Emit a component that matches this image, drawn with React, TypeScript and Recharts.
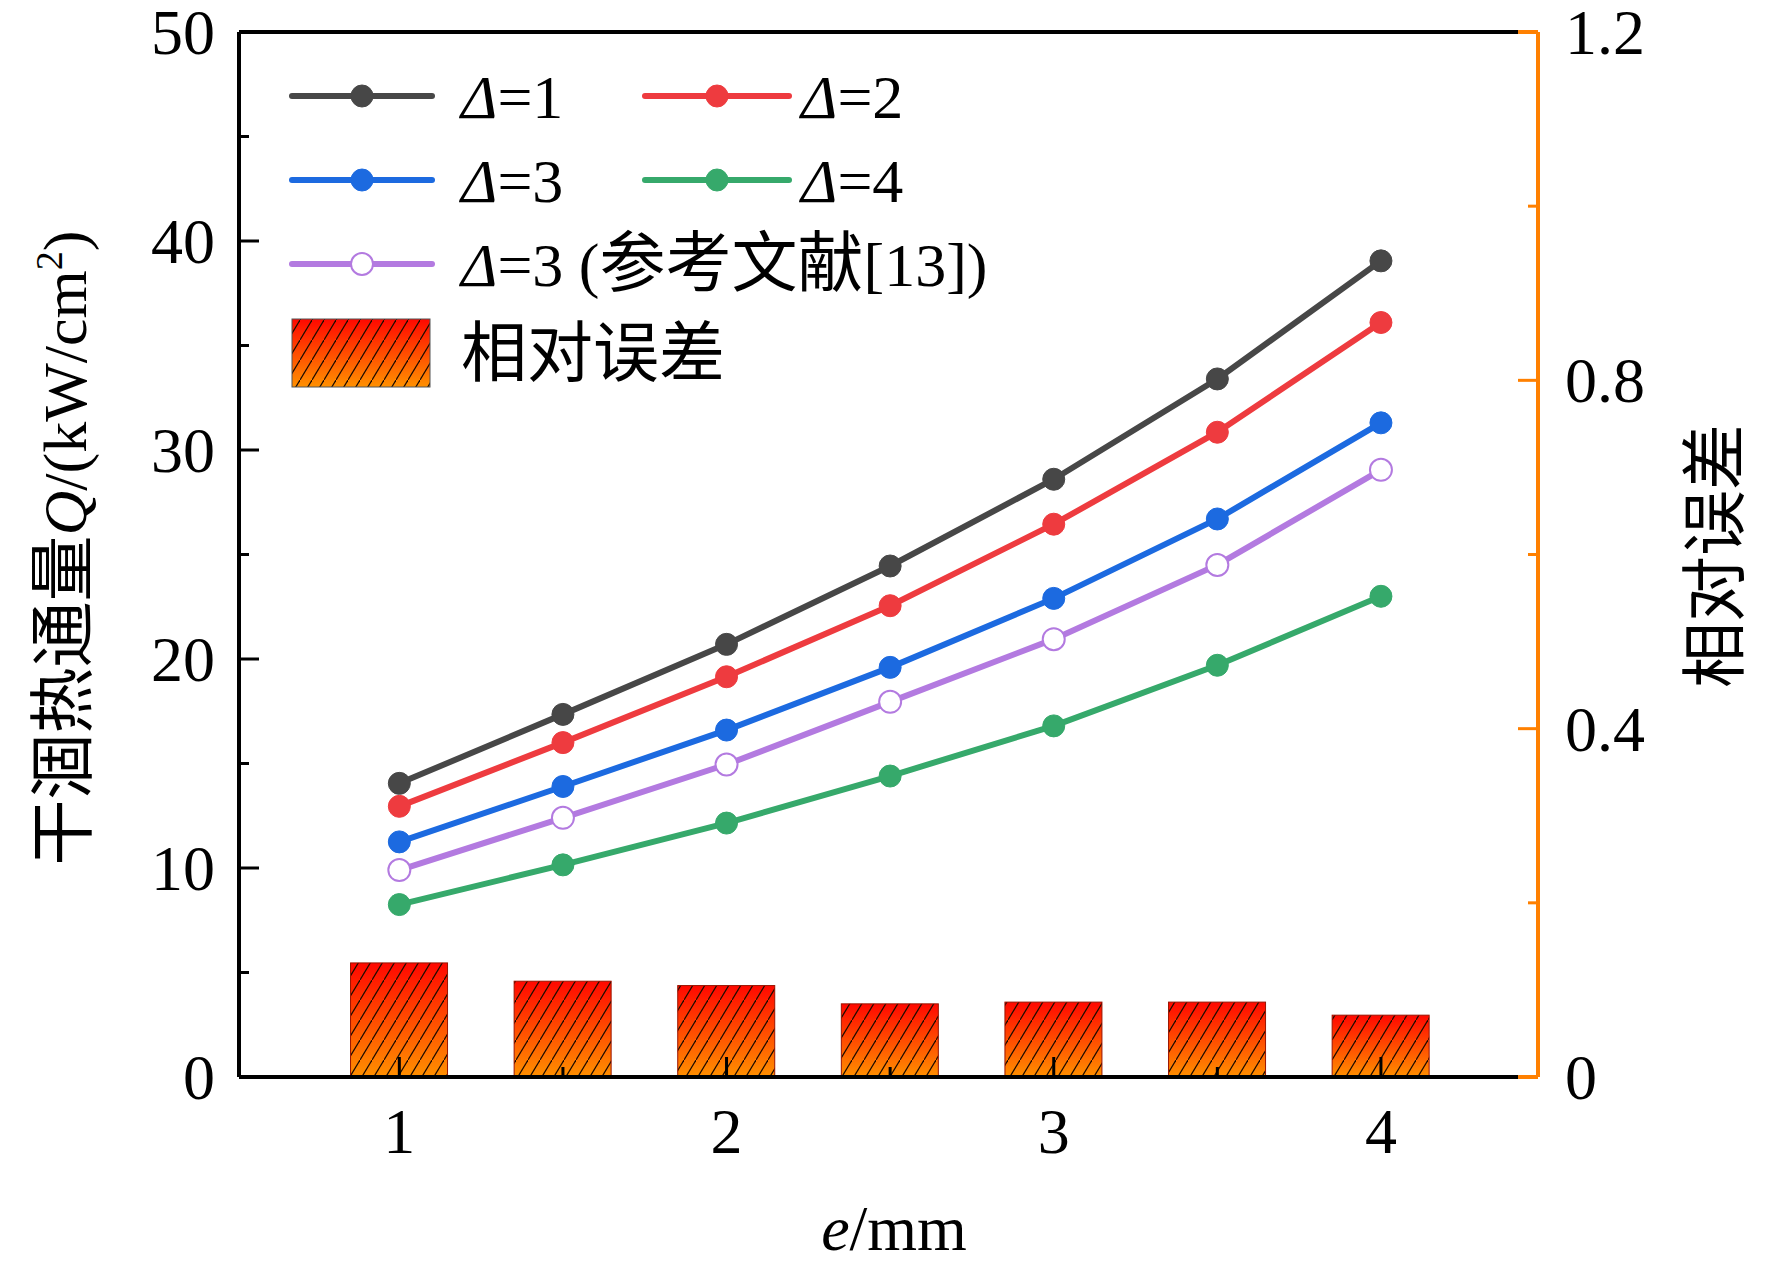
import { ComposedChart, Bar, Line, XAxis, YAxis, ReferenceLine } from 'recharts';

// e/mm 横坐标
const E_MM = [1, 1.5, 2, 2.5, 3, 3.5, 4];
// 干涸热通量 Q (kW/cm²)
const Q_D1 = [14.05, 17.35, 20.7, 24.45, 28.6, 33.4, 39.05];
const Q_D2 = [12.95, 16.0, 19.15, 22.55, 26.45, 30.85, 36.1];
const Q_D3 = [11.25, 13.9, 16.6, 19.6, 22.9, 26.7, 31.3];
const Q_D4 = [8.25, 10.15, 12.15, 14.4, 16.8, 19.7, 23.0];
const Q_D3_REF = [9.9, 12.4, 14.95, 17.95, 20.95, 24.5, 29.05];
// 相对误差 (右轴)
const REL_ERR = [0.131, 0.11, 0.105, 0.084, 0.086, 0.086, 0.071];

const X_TICKS = [1, 1.5, 2, 2.5, 3, 3.5, 4];
const LEFT_TICKS = [0, 5, 10, 15, 20, 25, 30, 35, 40, 45, 50];
const RIGHT_TICKS = [0, 0.2, 0.4, 0.6, 0.8, 1.0, 1.2];
const RIGHT_MAJOR = [0, 0.4, 0.8, 1.2];

const SERIES = [
  { key: 'd1', name: '=1', cjk: '', tail: '', color: '#474747', hollow: false },
  { key: 'd2', name: '=2', cjk: '', tail: '', color: '#ee3b3f', hollow: false },
  { key: 'd3', name: '=3', cjk: '', tail: '', color: '#1c6ae0', hollow: false },
  { key: 'd4', name: '=4', cjk: '', tail: '', color: '#36a96b', hollow: false },
  { key: 'd3ref', name: '=3 (', cjk: '参考文献', tail: '[13])', color: '#b37ae0', hollow: true },
];

const ORANGE = '#ff8000';
const SERIF = "'Liberation Serif', 'Times New Roman', 'Noto Sans CJK SC', serif";
const CJK = "'Noto Sans CJK SC', sans-serif";
const FS = 64;
const FS_CJK = 66;

const X_MIN = 0.51;
const X_MAX = 4.48;
const X_FRAME_END = 4.42;

const rows = E_MM.map((e, i) => ({
  e,
  d1: Q_D1[i],
  d2: Q_D2[i],
  d3: Q_D3[i],
  d4: Q_D4[i],
  d3ref: Q_D3_REF[i],
  err: REL_ERR[i],
}));

function BottomTick({ x, y, payload }: any) {
  const v = payload.value;
  const major = Number.isInteger(v);
  return (
    <g>
      <line x1={x} x2={x} y1={y} y2={y - (major ? 20 : 10)} stroke="#000" strokeWidth={3} />
      {major && (
        <text x={x} y={y + 76} textAnchor="middle" fontSize={FS} fontFamily={SERIF} fill="#000">
          {v}
        </text>
      )}
    </g>
  );
}

function LeftTick({ x, y, payload }: any) {
  const v = payload.value;
  const major = v % 10 === 0;
  return (
    <g>
      <line x1={x} x2={x + (major ? 20 : 10)} y1={y} y2={y} stroke="#000" strokeWidth={3} />
      {major && (
        <text x={x - 24} y={y + 22} textAnchor="end" fontSize={FS} fontFamily={SERIF} fill="#000">
          {v}
        </text>
      )}
    </g>
  );
}

function RightTick({ x, y, payload }: any) {
  const v = payload.value;
  const major = RIGHT_MAJOR.some((m) => Math.abs(m - v) < 1e-6);
  return (
    <g>
      <line x1={x} x2={x - (major ? 20 : 10)} y1={y} y2={y} stroke={ORANGE} strokeWidth={3} />
      {major && (
        <text x={x + 27} y={y + 22} textAnchor="start" fontSize={FS} fontFamily={SERIF} fill="#000">
          {v === 0 ? '0' : v.toFixed(1)}
        </text>
      )}
    </g>
  );
}

function HatchBar(props: any) {
  const { x, y, width, height } = props;
  if (!height || height <= 0) return null;
  return (
    <g>
      <rect x={x} y={y} width={width} height={height} fill="url(#errGrad)" />
      <rect x={x} y={y} width={width} height={height} fill="url(#errHatch)" stroke="#9a1400" strokeWidth={1} />
    </g>
  );
}

function Defs() {
  return (
    <svg width={0} height={0} style={{ position: 'absolute' }}>
      <defs>
        <linearGradient id="errGrad" x1="0" y1="0" x2="0" y2="1">
          <stop offset="0%" stopColor="#ff0800" />
          <stop offset="100%" stopColor="#ff9000" />
        </linearGradient>
        <pattern id="errHatch" patternUnits="userSpaceOnUse" width={12} height={20}>
          <line x1={-1.2} y1={22} x2={13.2} y2={-2} stroke="#1a0a00" strokeWidth={1.2} />
        </pattern>
      </defs>
    </svg>
  );
}

function Overlay() {
  const col1 = { x0: 292, x1: 432, text: 461 };
  const col2 = { x0: 645, x1: 789, text: 801 };
  const slots = [
    { s: SERIES[0], c: col1, y: 96 },
    { s: SERIES[1], c: col2, y: 96 },
    { s: SERIES[2], c: col1, y: 180 },
    { s: SERIES[3], c: col2, y: 180 },
    { s: SERIES[4], c: col1, y: 264 },
  ];
  return (
    <svg
      width={1772}
      height={1268}
      style={{ position: 'absolute', left: 0, top: 0, pointerEvents: 'none' }}
      fontFamily={SERIF}
    >
      {slots.map(({ s, c, y }) => (
        <g key={s.key}>
          <line x1={c.x0} x2={c.x1} y1={y} y2={y} stroke={s.color} strokeWidth={6} strokeLinecap="round" />
          <circle
            cx={(c.x0 + c.x1) / 2}
            cy={y}
            r={11}
            fill={s.hollow ? '#fff' : s.color}
            stroke={s.color}
            strokeWidth={s.hollow ? 2 : 1}
          />
          <text x={c.text} y={y + 22} fontSize={62} fill="#000">
            <tspan fontStyle="italic">Δ</tspan>
            {s.name}
            {s.cjk && (
              <tspan fontFamily={CJK} fontSize={FS_CJK}>
                {s.cjk}
              </tspan>
            )}
            {s.tail}
          </text>
        </g>
      ))}
      <rect x={292} y={319} width={138} height={68} fill="url(#errGrad)" />
      <rect x={292} y={319} width={138} height={68} fill="url(#errHatch)" stroke="#555" strokeWidth={1} />
      <text x={461} y={376} fontSize={FS_CJK} fontFamily={CJK} fill="#000">
        相对误差
      </text>

      {/* axis titles */}
      <text transform="translate(86,548) rotate(-90)" textAnchor="middle" fontSize={62} fill="#000">
        <tspan fontFamily={CJK} fontSize={FS_CJK}>
          干涸热通量
        </tspan>
        <tspan fontStyle="italic">Q</tspan>/(kW/cm<tspan fontSize={38} dy={-24}>2</tspan>
        <tspan dy={24}>)</tspan>
      </text>
      <text
        transform="translate(1738,556) rotate(-90)"
        textAnchor="middle"
        fontSize={FS_CJK}
        fontFamily={CJK}
        fill="#000"
      >
        相对误差
      </text>
      <text x={894} y={1250} textAnchor="middle" fontSize={FS} fill="#000">
        <tspan fontStyle="italic">e</tspan>/mm
      </text>
    </svg>
  );
}

export default function App() {
  return (
    <div style={{ position: 'absolute', left: 0, top: 0, width: 1772, height: 1268, background: '#fff' }}>
      <Defs />
      <ComposedChart width={1772} height={1268} data={rows} margin={{ top: 32, right: 134, left: 139, bottom: 91 }}>
        <Bar yAxisId="right" dataKey="err" barSize={97} shape={<HatchBar />} isAnimationActive={false} />
        {SERIES.map((s) => (
          <Line
            key={s.key}
            yAxisId="left"
            type="linear"
            dataKey={s.key}
            stroke={s.color}
            strokeWidth={6}
            dot={{ r: 11, fill: s.hollow ? '#fff' : s.color, stroke: s.color, strokeWidth: s.hollow ? 2 : 1 }}
            activeDot={false}
            isAnimationActive={false}
          />
        ))}
        <ReferenceLine yAxisId="left" segment={[{ x: X_MIN, y: 50 }, { x: X_FRAME_END, y: 50 }]} stroke="#000" strokeWidth={4} />
        <ReferenceLine yAxisId="left" segment={[{ x: X_FRAME_END, y: 50 }, { x: X_MAX, y: 50 }]} stroke={ORANGE} strokeWidth={4} />
        <ReferenceLine yAxisId="left" segment={[{ x: X_MIN, y: 0 }, { x: X_FRAME_END, y: 0 }]} stroke="#000" strokeWidth={4} />
        <ReferenceLine yAxisId="left" segment={[{ x: X_FRAME_END, y: 0 }, { x: X_MAX, y: 0 }]} stroke={ORANGE} strokeWidth={4} />
        <XAxis
          dataKey="e"
          type="number"
          domain={[X_MIN, X_MAX]}
          ticks={X_TICKS}
          interval={0}
          axisLine={false}
          tickLine={false}
          tickSize={0}
          tickMargin={0}
          height={100}
          tick={BottomTick}
        />
        <YAxis
          yAxisId="left"
          domain={[0, 50]}
          ticks={LEFT_TICKS}
          interval={0}
          axisLine={{ stroke: '#000', strokeWidth: 4 }}
          tickLine={false}
          tickSize={0}
          tickMargin={0}
          width={100}
          tick={LeftTick}
        />
        <YAxis
          yAxisId="right"
          orientation="right"
          domain={[0, 1.2]}
          ticks={RIGHT_TICKS}
          interval={0}
          axisLine={{ stroke: ORANGE, strokeWidth: 4 }}
          tickLine={false}
          tickSize={0}
          tickMargin={0}
          width={100}
          tick={RightTick}
        />
      </ComposedChart>
      <Overlay />
    </div>
  );
}
